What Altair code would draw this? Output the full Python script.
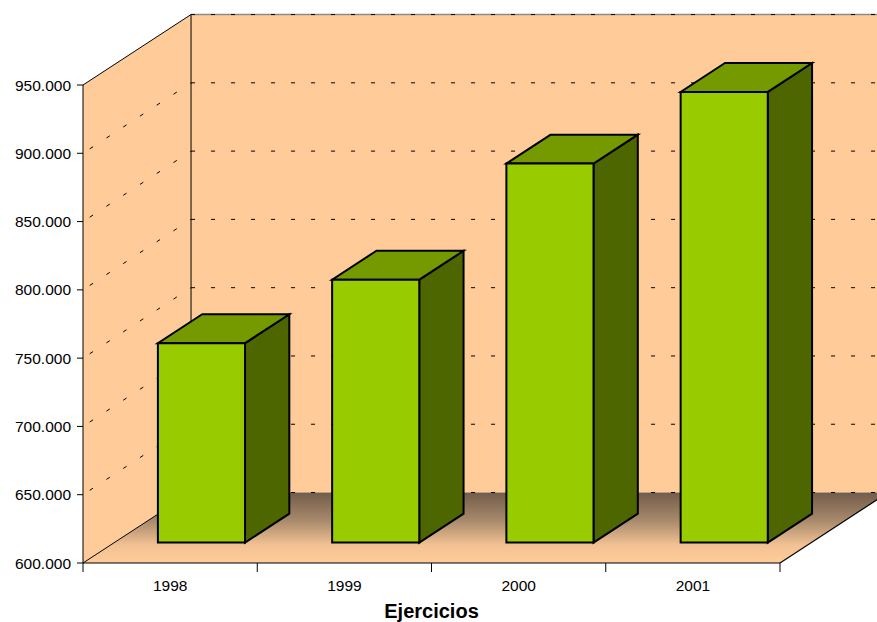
import altair as alt
import pandas as pd

# ---- data ----
years = ["1998", "1999", "2000", "2001"]
values = [746000, 792500, 877500, 930000]
y_ticks = [600000, 650000, 700000, 750000, 800000, 850000, 900000, 950000]
y_labels = ["600.000", "650.000", "700.000", "750.000", "800.000", "850.000", "900.000", "950.000"]
x_title = "Ejercicios"

# ---- 3D geometry in data units ----
N = len(years)
VMIN, VMAX = y_ticks[0], y_ticks[-1]
DX = 0.62        # horizontal depth of the box, in category units
DY = 51600       # vertical depth of the box, in value units
BAR_W = 0.5      # bar width (category units)
BAR_D0 = 0.29    # depth fraction where bar front face sits
BAR_D = 0.41     # bar depth fraction

PEACH = "#FFCC99"
FRONT = "#99CC00"
TOP = "#759A00"
SIDE = "#4D6600"
FONT = "Liberation Sans"

XS = alt.Scale(domain=[0, N], range=[83, 780], zero=False, nice=False)
YS = alt.Scale(domain=[VMIN, VMAX], range=[563, 85], zero=False, nice=False)


def X(f):
    return alt.X(f, type="quantitative", scale=XS, axis=None)


def Y(f):
    return alt.Y(f, type="quantitative", scale=YS, axis=None)


# back wall
back = pd.DataFrame([{"x": DX, "x2": N + DX, "y": VMIN + DY, "y2": VMAX + DY}])
back_wall = alt.Chart(back).mark_rect(fill=PEACH, strokeWidth=0).encode(
    x=X("x"), x2="x2", y=Y("y"), y2="y2")

# left wall (parallelogram)
left = pd.DataFrame([
    {"x": 0, "y": VMIN, "y2": VMAX},
    {"x": DX, "y": VMIN + DY, "y2": VMAX + DY},
])
left_wall = alt.Chart(left).mark_area(orient="vertical", fill=PEACH, stroke="black",
                                      strokeWidth=1).encode(
    x=X("x"), y=Y("y"), y2="y2")

# floor with gradient
floor = pd.DataFrame([
    {"y": VMIN, "x": 0, "x2": N},
    {"y": VMIN + DY, "x": DX, "x2": N + DX},
])
floor_fill = alt.Gradient(
    gradient="linear",
    stops=[alt.GradientStop(color="#735C4A", offset=0),
           alt.GradientStop(color="#A88A6C", offset=0.4),
           alt.GradientStop(color="#F3C293", offset=0.75),
           alt.GradientStop(color=PEACH, offset=1)],
    x1=0, x2=0, y1=0, y2=1)
floor_area = alt.Chart(floor).mark_area(orient="horizontal", fill=floor_fill,
                                        strokeWidth=0).encode(
    y=Y("y"), x=X("x"), x2="x2")

# back wall top edge (gray) and back gridlines (dashed)
top_edge = alt.Chart(back).mark_rule(color="#8C8C8C", strokeWidth=1.5).encode(
    x=X("x"), x2="x2", y=Y("y2"))
grid_back_df = pd.DataFrame({"y": [v + DY for v in y_ticks], "x": DX, "x2": N + DX})
grid_back = alt.Chart(grid_back_df).mark_rule(color="black", strokeWidth=1,
                                              strokeDash=[4, 16]).encode(
    x=X("x"), x2="x2", y=Y("y"))

# left wall diagonal gridlines
grid_left_df = pd.DataFrame({"y": y_ticks[1:-1], "y2": [v + DY for v in y_ticks[1:-1]],
                             "x": 0.0, "x2": DX})
grid_left = alt.Chart(grid_left_df).mark_rule(color="black", strokeWidth=1,
                                              strokeDash=[4, 16], strokeDashOffset=-8).encode(
    x=X("x"), x2="x2", y=Y("y"), y2="y2")

# floor front edge and right diagonal
edges_df = pd.DataFrame([
    {"x": 0, "x2": N, "y": VMIN, "y2": VMIN},
    {"x": N, "x2": N + DX, "y": VMIN, "y2": VMIN + DY},
])
edges = alt.Chart(edges_df).mark_rule(color="black", strokeWidth=1.2).encode(
    x=X("x"), x2="x2", y=Y("y"), y2="y2")

# bars
front_rows, top_rows, side_rows = [], [], []
for i, (yr, v) in enumerate(zip(years, values)):
    fx0 = i + 0.5 - BAR_W / 2 + BAR_D0 * DX
    fx1 = fx0 + BAR_W
    base = VMIN + BAR_D0 * DY
    top = v + BAR_D0 * DY
    ddx, ddy = BAR_D * DX, BAR_D * DY
    front_rows.append({"year": yr, "x": fx0, "x2": fx1, "y": base, "y2": top})
    top_rows += [{"year": yr, "y": top, "x": fx0, "x2": fx1},
                 {"year": yr, "y": top + ddy, "x": fx0 + ddx, "x2": fx1 + ddx}]
    side_rows += [{"year": yr, "x": fx1, "y": base, "y2": top},
                  {"year": yr, "x": fx1 + ddx, "y": base + ddy, "y2": top + ddy}]

bar_side = alt.Chart(pd.DataFrame(side_rows)).mark_area(
    orient="vertical", fill=SIDE, stroke="black", strokeWidth=2, strokeJoin="miter").encode(
    x=X("x"), y=Y("y"), y2="y2", detail="year:N")
bar_top = alt.Chart(pd.DataFrame(top_rows)).mark_area(
    orient="horizontal", fill=TOP, stroke="black", strokeWidth=2, strokeJoin="miter").encode(
    y=Y("y"), x=X("x"), x2="x2", detail="year:N")
bar_front = alt.Chart(pd.DataFrame(front_rows)).mark_rect(
    fill=FRONT, stroke="black", strokeWidth=2, strokeJoin="miter").encode(
    x=X("x"), x2="x2", y=Y("y"), y2="y2")

# y axis ticks and labels
ylab_df = pd.DataFrame({"v": y_ticks, "label": y_labels, "x": 0.0})
y_tick_marks = alt.Chart(ylab_df).mark_rule(color="black", strokeWidth=1, x2Offset=-6).encode(
    x=X("x"), x2="x", y=Y("v"))
y_text = alt.Chart(ylab_df).mark_text(align="right", baseline="middle", dx=-12, dy=0.5,
                                      fontSize=15.5, font=FONT, color="black").encode(
    x=X("x"), y=Y("v"), text="label:N")

# x axis ticks, labels, title
xt_df = pd.DataFrame({"x": list(range(N + 1)), "y": VMIN})
x_tick_marks = alt.Chart(xt_df).mark_rule(color="black", strokeWidth=1, y2Offset=9).encode(
    x=X("x"), y=Y("y"), y2="y")
xl_df = pd.DataFrame({"year": years, "x": [i + 0.5 for i in range(N)], "y": VMIN})
x_text = alt.Chart(xl_df).mark_text(align="center", baseline="middle", dy=23,
                                    fontSize=15.5, font=FONT, color="black").encode(
    x=X("x"), y=Y("y"), text="year:N")
title_df = pd.DataFrame({"t": [x_title], "x": [N / 2], "y": [VMIN]})
x_title_mark = alt.Chart(title_df).mark_text(align="center", baseline="middle", dy=49,
                                             fontSize=20, fontWeight="bold", font=FONT,
                                             color="black").encode(
    x=X("x"), y=Y("y"), text="t:N")

chart = alt.layer(
    back_wall, floor_area, left_wall, top_edge, grid_back, grid_left, edges,
    bar_side, bar_top, bar_front,
    y_tick_marks, y_text, x_tick_marks, x_text, x_title_mark,
).properties(
    width=877, height=622, padding=0, autosize=alt.AutoSizeParams(type="none"),
    background="white",
).configure_view(stroke=None)

chart.save("out.html", embed_options={"renderer": "svg", "actions": False})
